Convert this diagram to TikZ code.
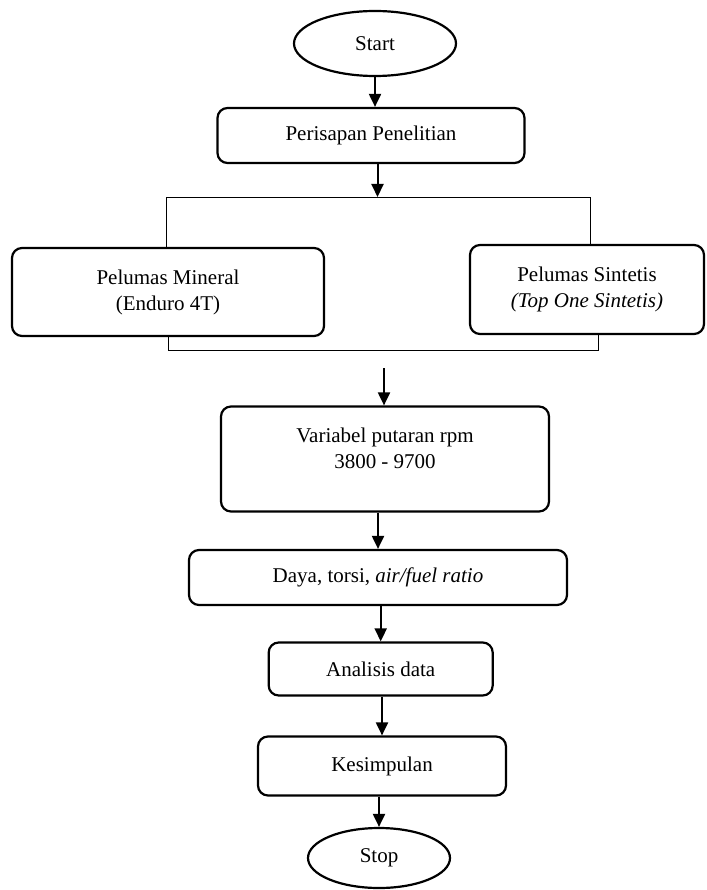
\documentclass[tikz,border=0pt]{standalone}
\usepackage{fontspec}
\setmainfont{Liberation Serif}
\usetikzlibrary{shapes.geometric,arrows.meta}
\begin{document}
\begin{tikzpicture}[x=1pt,y=-1pt,
  font=\fontsize{21}{26}\selectfont,
  box/.style={draw,line width=2.2pt,rounded corners=10pt,inner sep=0pt,align=center},
  oval/.style={draw,ellipse,line width=2.2pt,inner sep=0pt},
  arr/.style={line width=2pt,-{Triangle[width=12pt,length=13pt]}},
  thinline/.style={line width=0.8pt}]
\useasboundingbox (0,0) rectangle (706,890);
\node[oval,minimum width=162pt,minimum height=65pt] (start) at (375,43.5) {Start};
\node[box,minimum width=307pt,minimum height=55pt] (pers) at (371,135.5) {Perisapan Penelitian};
\node[box,minimum width=312pt,minimum height=88pt] (min) at (168,292) {Pelumas Mineral\\(Enduro 4T)};
\node[box,minimum width=234pt,minimum height=89pt] (sin) at (587,289.5) {Pelumas Sintetis\\\textit{(Top One Sintetis)}};
\node[box,minimum width=328pt,minimum height=105pt] (var) at (385,459) {};
\node[align=center,inner sep=0pt] (vartext) at (385,448.5) {Variabel putaran rpm\\3800 - 9700};
\node[box,minimum width=378pt,minimum height=55pt] (daya) at (378,577.5) {Daya, torsi, \textit{air/fuel ratio}};
\node[box,minimum width=224pt,minimum height=53pt] (anal) at (380.7,669) {Analisis data};
\node[box,minimum width=248pt,minimum height=59pt] (kes) at (382,766) {Kesimpulan};
\node[oval,minimum width=142pt,minimum height=60pt] (stop) at (379,858) {Stop};
% connectors
\draw[arr] (start.south) -- (start.south |- pers.north);
\coordinate (bt) at (377.5,197);
\draw[arr] (pers.south -| bt) -- (bt);
\coordinate (bl) at (166.7,197);
\coordinate (br) at (590.5,197);
\draw[thinline] (bl |- min.north) -- (bl) -- (br) -- (br |- sin.north);
\coordinate (bbl) at (168,350);
\coordinate (bbr) at (598.6,350);
\draw[thinline] (bbl |- min.south) -- (bbl) -- (bbr) -- (bbr |- sin.south);
\coordinate (a3) at (384,368);
\draw[arr] (a3) -- (a3 |- var.north);
\draw[arr] (var.south -| daya.north) -- (daya.north);
\draw[arr] (daya.south -| anal.north) -- (anal.north);
\draw[arr] (anal.south -| kes.north) -- (kes.north);
\draw[arr] (kes.south -| stop.north) -- (stop.north);
\end{tikzpicture}
\end{document}
